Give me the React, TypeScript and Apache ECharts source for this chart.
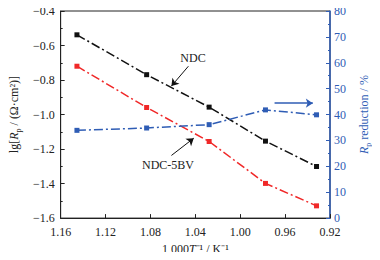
import React, { useEffect, useRef } from "react";
import * as echarts from "echarts";

const invT = [1.1455, 1.0834, 1.0277, 0.9775, 0.932];
const ndc = [-0.538, -0.769, -0.957, -1.154, -1.301];
const ndc5bv = [-0.72, -0.959, -1.156, -1.399, -1.529];
const reduction = [33.9, 34.8, 36.1, 41.8, 39.9];
const xTicks = { min: 0.92, max: 1.16, step: 0.04 };
const yLeftTicks = { min: -1.6, max: -0.4, step: 0.2 };
const yRightTicks = { min: 0, max: 80, step: 10 };

const FONT = "'Liberation Serif', 'Times New Roman', serif";
const BLUE = "#2f5db5";
const RED = "#f02828";
const dashDot = [9, 3, 2, 3];

export default function App() {
  const ref = useRef<HTMLDivElement>(null);
  useEffect(() => {
    const chart = echarts.init(ref.current!, null, { renderer: "svg" });
    const minus = (s: string) => s.replace("-", "\u2212");
    chart.setOption({
      animation: false,
      textStyle: { fontFamily: FONT },
      grid: { left: 54, right: 44, top: 11, bottom: 40, show: true, borderColor: "#222", borderWidth: 1 },
      xAxis: {
        type: "value",
        inverse: true,
        min: xTicks.min,
        max: xTicks.max,
        interval: xTicks.step,
        axisLine: { lineStyle: { color: "#222" } },
        axisTick: { inside: true, length: 4, lineStyle: { color: "#222" } },
        splitLine: { show: false },
        axisLabel: { color: "#222", fontSize: 12, fontFamily: FONT, formatter: (v: number) => v.toFixed(2), margin: 8 },
        name: "1 000{i|T}\u207B\u00B9 / K\u207B\u00B9",
        nameLocation: "middle",
        nameGap: 24,
        nameTextStyle: { color: "#222", fontSize: 12, fontFamily: FONT, rich: { i: { fontStyle: "italic", fontSize: 12, fontFamily: FONT } } },
      },
      yAxis: [
        {
          type: "value",
          min: yLeftTicks.min,
          max: yLeftTicks.max,
          interval: yLeftTicks.step,
          axisLine: { show: true, lineStyle: { color: "#222" } },
          axisTick: { show: true, inside: true, length: 4, lineStyle: { color: "#222" } },
          minorTick: { show: true, splitNumber: 2, length: 2, lineStyle: { color: "#222" } },
          splitLine: { show: false },
          axisLabel: { color: "#222", fontSize: 12, fontFamily: FONT, formatter: (v: number) => minus(v.toFixed(1)), margin: 6 },
          name: "lg[{i|R}{s|p} / (\u03A9\u00B7cm\u00B2)]",
          nameLocation: "middle",
          nameGap: 32,
          nameRotate: 90,
          nameTextStyle: {
            color: "#222",
            fontSize: 12,
            fontFamily: FONT,
            rich: {
              i: { fontStyle: "italic", fontSize: 12, fontFamily: FONT },
              s: { fontSize: 8, fontFamily: FONT, padding: [8, 0, 0, 0] },
            },
          },
        },
        {
          type: "value",
          position: "right",
          min: yRightTicks.min,
          max: yRightTicks.max,
          interval: yRightTicks.step,
          axisLine: { show: true, lineStyle: { color: BLUE, width: 1.5 } },
          axisTick: { show: true, inside: true, length: 4, lineStyle: { color: BLUE } },
          minorTick: { show: true, splitNumber: 2, length: 2, lineStyle: { color: BLUE } },
          splitLine: { show: false },
          axisLabel: { color: BLUE, fontSize: 12, fontFamily: FONT, margin: 4 },
          name: "{i|R}{s|p} reduction / %",
          nameLocation: "middle",
          nameGap: 26,
          nameRotate: 90,
          nameTextStyle: {
            color: BLUE,
            fontSize: 12,
            fontFamily: FONT,
            rich: {
              i: { fontStyle: "italic", fontSize: 12, fontFamily: FONT, color: BLUE },
              s: { fontSize: 8, fontFamily: FONT, color: BLUE, padding: [8, 0, 0, 0] },
            },
          },
        },
      ],
      series: [
        {
          type: "line",
          name: "NDC",
          data: invT.map((x, i) => [x, ndc[i]]),
          symbol: "rect",
          symbolSize: 5,
          itemStyle: { color: "#111" },
          lineStyle: { color: "#111", width: 1.5, type: dashDot },
          markLine: {
            silent: true,
            symbol: ["none", "arrow"],
            symbolSize: 7,
            label: { show: false },
            lineStyle: { color: "#111", width: 1, type: "solid" },
            data: [[{ coord: [1.0462, -0.72] }, { coord: [1.0613, -0.835] }]],
          },
        },
        {
          type: "line",
          name: "NDC-5BV",
          data: invT.map((x, i) => [x, ndc5bv[i]]),
          symbol: "rect",
          symbolSize: 5,
          itemStyle: { color: RED },
          lineStyle: { color: RED, width: 1.5, type: dashDot },
          markLine: {
            silent: true,
            symbol: ["none", "arrow"],
            symbolSize: 7,
            label: { show: false },
            lineStyle: { color: "#111", width: 1, type: "solid" },
            data: [[{ coord: [1.0613, -1.237] }, { coord: [1.0414, -1.137] }]],
          },
        },
        {
          type: "line",
          name: "Rp reduction",
          yAxisIndex: 1,
          data: invT.map((x, i) => [x, reduction[i]]),
          symbol: "rect",
          symbolSize: 5,
          itemStyle: { color: BLUE },
          lineStyle: { color: BLUE, width: 1.5, type: dashDot },
          markLine: {
            silent: true,
            symbol: ["none", "arrow"],
            symbolSize: 7,
            label: { show: false },
            lineStyle: { color: BLUE, width: 1.5, type: "solid" },
            data: [[{ coord: [0.9694, 44.4] }, { coord: [0.9353, 44.4] }]],
          },
        },
      ],
      graphic: [
        { type: "text", x: 193, y: 58, style: { text: "NDC", fontSize: 12, fontFamily: FONT, fill: "#222", align: "center", verticalAlign: "middle" } },
        { type: "text", x: 168, y: 165, style: { text: "NDC-5BV", fontSize: 12, fontFamily: FONT, fill: "#222", align: "center", verticalAlign: "middle" } },
      ],
    });
    return () => chart.dispose();
  }, []);
  return <div ref={ref} style={{ width: 380, height: 260, margin: -8 }} />;
}
